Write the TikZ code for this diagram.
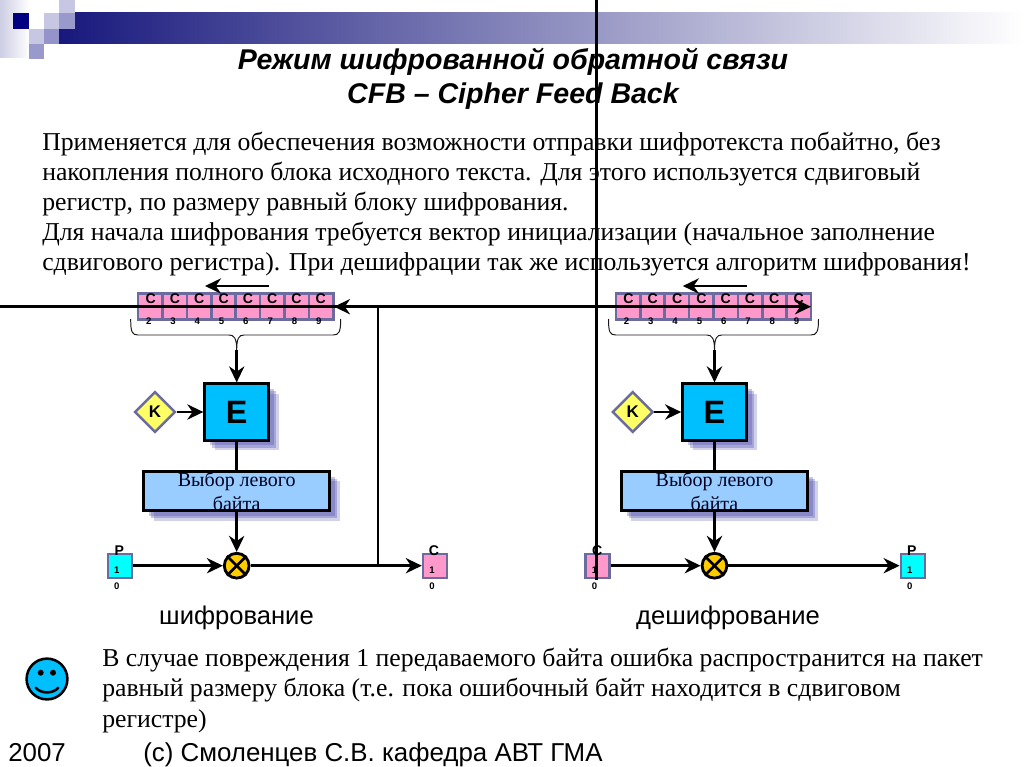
\documentclass[tikz,border=0pt]{standalone}
\usepackage{fontspec}
\setmainfont{Liberation Serif}
\setsansfont{Liberation Sans}
\usetikzlibrary{arrows.meta,shapes.geometric,shadows}
\definecolor{rimcol}{RGB}{107,107,160}
\definecolor{pinkcol}{RGB}{255,153,204}
\definecolor{cyancol}{RGB}{0,255,255}
\definecolor{ecol}{RGB}{0,191,255}
\definecolor{bytecol}{RGB}{153,204,255}
\definecolor{keycol}{RGB}{255,255,102}
\definecolor{xorcol}{RGB}{255,204,0}
\definecolor{shadecol}{RGB}{70,70,170}
\definecolor{navycol}{RGB}{0,0,128}
\definecolor{barleft}{RGB}{24,24,125}
\definecolor{barmid}{RGB}{184,184,206}
\definecolor{sideleft}{RGB}{205,205,228}
\tikzset{
    softshade/.style={
        drop shadow={shadow xshift=0.13cm,shadow yshift=-0.13cm,fill=shadecol,opacity=0.3},
        drop shadow={shadow xshift=0.19cm,shadow yshift=-0.19cm,fill=shadecol,opacity=0.3},
        drop shadow={shadow xshift=0.25cm,shadow yshift=-0.25cm,fill=shadecol,opacity=0.25}},
    cell/.style={rectangle,draw=rimcol,line width=1.8pt,fill=pinkcol,minimum width=0.61cm,minimum height=0.66cm,inner sep=0pt},
    ebox/.style={rectangle,draw,line width=1.9pt,fill=ecol,minimum width=1.6cm,minimum height=1.41cm,inner sep=0pt,
        softshade,font=\sffamily\bfseries\fontsize{23}{27}\selectfont},
    bytebox/.style={rectangle,draw,line width=1.9pt,fill=bytecol,minimum width=4.65cm,minimum height=0.98cm,inner sep=0pt,
        softshade,align=center,text=black!75!navycol,font=\fontsize{14.2}{17}\selectfont},
    keynode/.style={diamond,draw=rimcol,line width=1.8pt,fill=keycol,minimum size=1.02cm,inner sep=0pt,
        font=\sffamily\bfseries\fontsize{12}{14}\selectfont},
    xornode/.style={circle,draw,line width=2pt,fill=xorcol,minimum size=0.62cm,inner sep=0pt},
    bytecell/.style={rectangle,draw=rimcol,line width=1.7pt,minimum size=0.6cm,inner sep=0pt},
    bigchar/.style={inner sep=0pt,font=\sffamily\bfseries\fontsize{10}{12}\selectfont},
    smallchar/.style={inner sep=0pt,font=\sffamily\bfseries\fontsize{6.8}{8}\selectfont},
    bodytext/.style={anchor=base west,inner sep=0pt,align=left,font=\fontsize{18.3}{21.5}\selectfont},
    arr/.style={-{Stealth[length=4mm,width=3.8mm,inset=1.3mm]},line width=1.9pt},
    plain/.style={line width=1.9pt}
}
\begin{document}
\begin{tikzpicture}[x=0.025cm,y=-0.025cm]
  \useasboundingbox (0,0) rectangle (1024,767);
  % header bar and squares
  \shade[left color=sideleft,right color=white] (0,1) rectangle (29,58);
  \fill[white] (29,1) rectangle (44,29);
  \shade[left color=barleft,middle color=barmid,right color=white] (59,13) rectangle (1024,44);
  \fill[white] (44,0) rectangle (59,13);
  \fill[navycol] (13,13) rectangle (29,29);
  \fill[navycol!22!white] (44,13) rectangle (59,29);
  \fill[navycol!22!white] (59,0) rectangle (75,13);
  \fill[navycol!40!white] (59,13) rectangle (75,29);
  \fill[navycol!22!white] (29,29) rectangle (44,44);
  \fill[navycol!42!white] (44,29) rectangle (59,44);
  \fill[navycol!40!white] (29,44) rectangle (44,59);
  % title and texts
  \node[align=center,inner sep=0pt,font=\sffamily\bfseries\itshape\fontsize{20.3}{24.2}\selectfont] (title) at (513,79)
    {Режим шифрованной обратной связи\\CFB – Cipher Feed Back};
  \node[bodytext] (intro) at (42,271)
    {Применяется для обеспечения возможности отправки шифротекста побайтно, без\\
     накопления полного блока исходного текста. Для этого используется сдвиговый\\
     регистр, по размеру равный блоку шифрования.\\
     Для начала шифрования требуется вектор инициализации (начальное заполнение\\
     сдвигового регистра). При дешифрации так же используется алгоритм шифрования!};
  \node[bodytext] (note) at (102,727)
    {В случае повреждения 1 передаваемого байта ошибка распространится на пакет\\
     равный размеру блока (т.е. пока ошибочный байт находится в сдвиговом\\
     регистре)};
  \node[inner sep=0pt,anchor=base,font=\sffamily\fontsize{18.2}{20}\selectfont] (enc) at (236.5,624) {шифрование};
  \node[inner sep=0pt,anchor=base,font=\sffamily\fontsize{18.2}{20}\selectfont] (dec) at (728,624) {дешифрование};
  \node[inner sep=0pt,anchor=base west,font=\sffamily\fontsize{18.4}{20}\selectfont] (year) at (8,761) {2007};
  \node[inner sep=0pt,anchor=base west,font=\sffamily\fontsize{18.4}{20}\selectfont] (copy) at (143,761)
    {(c) Смоленцев С.В. кафедра АВТ ГМА};
  % smiley
  \node[circle,draw,line width=1.8pt,fill=ecol,minimum size=1.02cm,inner sep=0pt] (smile) at (47,679) {};
  \fill (40.7,672.7) circle (3);
  \fill (53,672.7) circle (3);
  \draw[line width=1.8pt,line cap=round] (35.7,687.7) .. controls (41,694) and (53,694) .. (58.3,687.7);
  % both schemes
  \foreach \dx/\side/\inname/\infill/\outname/\outfill in {0/l/P/cyancol/C/pinkcol,477.8/r/C/pinkcol/P/cyancol}{
    \begin{scope}[shift={(\dx,0)},name prefix=\side-]
      \foreach \i [count=\n from 2] in {0,...,7}{
        \node[cell] (cell\n) at ({150.3+24.4*\i},306.5) {};
        \node[bigchar] (cc\n) at ({150.7+24.3*\i},299) {C};
        \node[smallchar] (cn\n) at ({148.7+24.3*\i},321) {\n};
      }
      \coordinate (shiftr) at (269,286);
      \coordinate (shiftl) at (205,286);
      \draw[arr] (shiftr) -- (shiftl);
      % brace under the register
      \draw[line width=0.7pt,black!90] (130.7,319) .. controls (130.7,332) and (132,335) .. (138,335) -- (229,335)
        .. controls (234,335) and (236.7,338) .. (236.7,350) .. controls (236.7,338) and (239,335) .. (244,335)
        -- (333,335) .. controls (339,335) and (340.7,332) .. (340.7,319);
      \coordinate (tip) at (236.7,350);
      \node[ebox] (e) at (236.7,412) {E};
      \node[keynode] (key) at (155,412) {K};
      \node[bytebox] (byte) at (236.7,491) {Выбор левого\\байта};
      \node[xornode] (xor) at (236.7,565.7) {};
      \draw[line width=1.9pt] (xor.north west) -- (xor.south east);
      \draw[line width=1.9pt] (xor.north east) -- (xor.south west);
      \node[bytecell,fill=\infill] (in) at (119.7,565.7) {};
      \node[bytecell,fill=\outfill] (out) at (435,565.7) {};
      \node[bigchar] (inc) at (119.3,551) {\inname};
      \node[bigchar] (outc) at (434,551) {\outname};
      \node[smallchar] (in1) at (116.7,570) {1};
      \node[smallchar] (in0) at (116.7,586) {0};
      \node[smallchar] (out1) at (432,570) {1};
      \node[smallchar] (out0) at (432,586) {0};
      \draw[arr] (tip) -- (e);
      \draw[arr] (key) -- (e);
      \draw[plain] (e) -- (byte);
      \draw[arr] (byte) -- (xor);
      \draw[arr] (in) -- (xor);
      \draw[arr] (xor) -- (out);
    \end{scope}
  }
  % feedback and the long lines
  \coordinate (fbbot) at (378,565.7);
  \coordinate (fbtop) at (378,306.7);
  \coordinate (fbend) at (334,306.7);
  \draw[arr] (fbbot) -- (fbtop) -- (fbend);
  \coordinate (hleft) at (0,306.7);
  \coordinate (hright) at (811,306.7);
  \draw[arr] (hleft) -- (hright);
  \coordinate (vtop) at (596.7,0);
  \coordinate (vbot) at (596.7,580);
  \draw[plain] (vtop) -- (vbot);
\end{tikzpicture}
\end{document}
